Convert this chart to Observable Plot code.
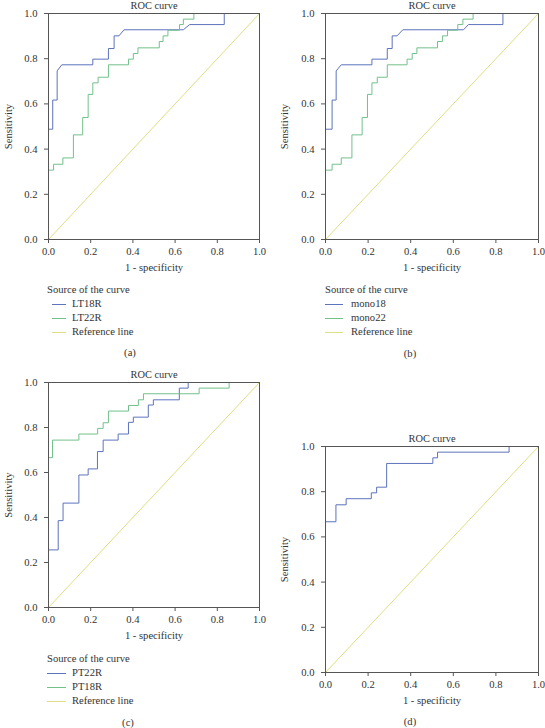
<!DOCTYPE html>
<html><head><meta charset="utf-8">
<script src="https://cdn.jsdelivr.net/npm/d3@7"></script>
<script src="https://cdn.jsdelivr.net/npm/@observablehq/plot@0.6"></script>
<style>
body{margin:0;background:#fff;}
#root{position:relative;width:545px;height:728px;overflow:hidden;font-family:"Liberation Serif","Times New Roman",serif;color:#333;font-size:10.6px;}
.t{position:absolute;line-height:14px;white-space:nowrap;}
.sw{position:absolute;height:0;border-top:1px solid;}
</style></head><body><div id="root"></div>
<script>
// ---- shared text / ticks ----
const tickValues = [0, 0.2, 0.4, 0.6, 0.8, 1.0];
const chartTitle = "ROC curve";
const xLabel = "1 - specificity";
const yLabel = "Sensitivity";
const legendTitle = "Source of the curve";
const refName = "Reference line";
const refX = [0, 1];
const refY = [0, 1];
const blue = "#5d73bc", green = "#72c08b", yellow = "#dede84";

// ---- panel (a) ----
const LT18R_x = [0,0,0.02,0.02,0.041,0.041,0.063,0.21,0.21,0.284,0.284,0.311,0.311,0.334,0.358,0.639,0.669,0.833,0.833,1];
const LT18R_y = [0,0.488,0.488,0.617,0.617,0.746,0.773,0.773,0.798,0.798,0.845,0.845,0.901,0.901,0.928,0.928,0.951,0.951,1,1];
const LT22R_x = [0,0,0.024,0.024,0.068,0.068,0.118,0.118,0.162,0.162,0.188,0.188,0.21,0.21,0.235,0.235,0.284,0.284,0.379,0.379,0.402,0.402,0.424,0.424,0.525,0.525,0.543,0.543,0.566,0.566,0.621,0.621,0.639,0.639,0.689,0.689,1];
const LT22R_y = [0,0.307,0.307,0.333,0.333,0.361,0.361,0.463,0.463,0.54,0.54,0.642,0.642,0.693,0.693,0.718,0.718,0.773,0.773,0.798,0.798,0.823,0.823,0.848,0.848,0.876,0.876,0.901,0.901,0.926,0.926,0.951,0.951,0.975,0.975,1,1];

// ---- panel (b) ----
const mono18_x = [0,0,0.031,0.031,0.05,0.05,0.074,0.218,0.218,0.29,0.29,0.313,0.313,0.336,0.363,0.648,0.671,0.833,0.833,1];
const mono18_y = [0,0.488,0.488,0.617,0.617,0.746,0.773,0.773,0.798,0.798,0.845,0.845,0.901,0.901,0.928,0.928,0.951,0.951,1,1];
const mono22_x = [0,0,0.031,0.031,0.074,0.074,0.124,0.124,0.172,0.172,0.197,0.197,0.218,0.218,0.243,0.243,0.29,0.29,0.383,0.383,0.407,0.407,0.429,0.429,0.526,0.526,0.549,0.549,0.573,0.573,0.621,0.621,0.645,0.645,0.693,0.693,1];
const mono22_y = [0,0.307,0.307,0.333,0.333,0.361,0.361,0.463,0.463,0.54,0.54,0.642,0.642,0.693,0.693,0.718,0.718,0.773,0.773,0.798,0.798,0.823,0.823,0.848,0.848,0.876,0.876,0.901,0.901,0.926,0.926,0.951,0.951,0.975,0.975,1,1];

// ---- panel (c) ----
const PT22R_x = [0,0,0.046,0.046,0.069,0.069,0.144,0.144,0.188,0.188,0.232,0.232,0.259,0.259,0.33,0.33,0.379,0.379,0.402,0.402,0.473,0.473,0.497,0.497,0.62,0.62,0.662,0.662,1];
const PT22R_y = [0,0.256,0.256,0.386,0.386,0.464,0.464,0.589,0.589,0.616,0.616,0.693,0.693,0.744,0.744,0.771,0.771,0.823,0.823,0.846,0.846,0.9,0.9,0.923,0.923,0.975,0.975,1,1];
const PT18R_x = [0,0,0.019,0.019,0.144,0.144,0.233,0.233,0.259,0.259,0.284,0.284,0.379,0.379,0.426,0.426,0.45,0.45,0.714,0.714,0.856,0.856,1];
const PT18R_y = [0,0.666,0.666,0.744,0.744,0.771,0.771,0.796,0.796,0.821,0.821,0.873,0.873,0.898,0.898,0.923,0.923,0.95,0.95,0.975,0.975,1,1];

// ---- panel (d) ----
const curveD_x = [0,0,0.049,0.049,0.097,0.097,0.215,0.215,0.24,0.24,0.287,0.287,0.504,0.504,0.526,0.526,0.862,0.862,1];
const curveD_y = [0,0.667,0.667,0.742,0.742,0.769,0.769,0.795,0.795,0.82,0.82,0.925,0.925,0.95,0.95,0.975,0.975,1,1];

const root = document.getElementById("root");
const pts = (xs, ys) => xs.map((x, i) => ({x, y: ys[i]}));
const FONT = '"Liberation Serif", "Times New Roman", serif';

function panel(o) {
  const marks = [
    Plot.line(pts(refX, refY), {x: "x", y: "y", stroke: yellow, strokeWidth: 1}),
    ...o.series.map(s => Plot.line(pts(s.x, s.y), {x: "x", y: "y", stroke: s.color, strokeWidth: 1})),
    Plot.frame({stroke: "#555", strokeWidth: 1}),
    Plot.axisX({ticks: tickValues, tickFormat: ".1f", tickSize: 4, tickPadding: 4, stroke: "#555",
      label: xLabel, labelAnchor: "center", labelArrow: "none", labelOffset: o.lx}),
    Plot.axisY({ticks: tickValues, tickFormat: ".1f", tickSize: 4, tickPadding: 7, stroke: "#555",
      label: yLabel, labelAnchor: "center", labelArrow: "none", labelOffset: o.ly}),
    Plot.text([chartTitle], {frameAnchor: "top", lineAnchor: "middle", dy: -8, fontSize: 10.4})
  ];
  const svg = Plot.plot({
    width: o.width, height: o.height,
    marginTop: o.mt, marginRight: o.mr, marginBottom: o.mb, marginLeft: o.ml,
    x: {domain: [0, 1]}, y: {domain: [0, 1]},
    style: {fontFamily: FONT, fontSize: "10.6px", color: "#333", background: "transparent", overflow: "visible"},
    marks
  });
  svg.setAttribute("font-family", FONT);
  svg.setAttribute("font-size", "10.6");
  svg.style.position = "absolute";
  svg.style.left = o.left + "px";
  svg.style.top = o.top + "px";
  root.appendChild(svg);
}

function text(str, x, cy, anchor) {
  const d = document.createElement("div");
  d.className = "t";
  d.textContent = str;
  d.style.top = (cy - 7) + "px";
  d.style.left = x + "px";
  if (anchor === "middle") d.style.transform = "translateX(-50%)";
  root.appendChild(d);
}
function swatch(x0, x1, cy, color) {
  const d = document.createElement("div");
  d.className = "sw";
  d.style.left = x0 + "px"; d.style.width = (x1 - x0) + "px";
  d.style.top = cy + "px"; d.style.borderColor = color;
  root.appendChild(d);
}
function legend(o) {
  text(legendTitle, o.tx, o.y0, "start");
  o.items.forEach((it, i) => {
    const cy = o.y0 + 14 * (i + 1);
    swatch(o.sx0, o.sx1, cy, it.color);
    text(it.name, o.lx, cy, "start");
  });
}

panel({left: 0, top: 0, width: 272, height: 282, mt: 13, mr: 13, mb: 43, ml: 48, lx: 31, ly: 44,
  series: [{x: LT18R_x, y: LT18R_y, color: blue}, {x: LT22R_x, y: LT22R_y, color: green}]});
panel({left: 272, top: 0, width: 273, height: 282, mt: 13, mr: 7, mb: 43, ml: 53, lx: 31, ly: 45,
  series: [{x: mono18_x, y: mono18_y, color: blue}, {x: mono22_x, y: mono22_y, color: green}]});
panel({left: 0, top: 360, width: 272, height: 290, mt: 22, mr: 13, mb: 43, ml: 48, lx: 31, ly: 44,
  series: [{x: PT22R_x, y: PT22R_y, color: blue}, {x: PT18R_x, y: PT18R_y, color: green}]});
panel({left: 272, top: 420, width: 273, height: 290, mt: 26, mr: 7, mb: 38, ml: 53, lx: 31, ly: 45,
  series: [{x: curveD_x, y: curveD_y, color: blue}]});

legend({tx: 47, y0: 290, sx0: 52, sx1: 66, lx: 72,
  items: [{name: "LT18R", color: blue}, {name: "LT22R", color: green}, {name: refName, color: yellow}]});
legend({tx: 325, y0: 290, sx0: 325, sx1: 343, lx: 351,
  items: [{name: "mono18", color: blue}, {name: "mono22", color: green}, {name: refName, color: yellow}]});
legend({tx: 47, y0: 659, sx0: 47, sx1: 66, lx: 72,
  items: [{name: "PT22R", color: blue}, {name: "PT18R", color: green}, {name: refName, color: yellow}]});

text("(a)", 130, 353, "middle");
text("(b)", 410, 354, "middle");
text("(c)", 128, 723, "middle");
text("(d)", 410, 722, "middle");
</script></body></html>
